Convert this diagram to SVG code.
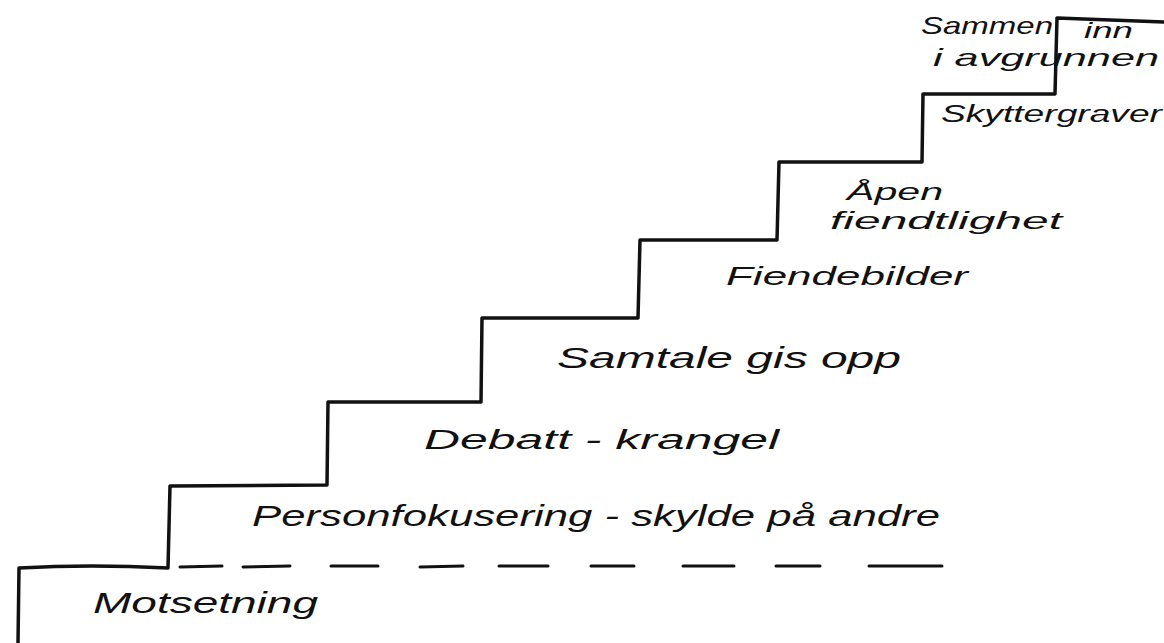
<svg xmlns="http://www.w3.org/2000/svg" width="1164" height="643" viewBox="0 0 1164 643">
  <style>
    .stair { fill: none; stroke: #111; stroke-width: 3.5; stroke-linejoin: round; stroke-linecap: round; }
    .dash { fill: none; stroke: #111; stroke-width: 3; stroke-linecap: round; }
    .lbl { font-family: "Liberation Sans", "DejaVu Sans", sans-serif; fill: #111; font-style: italic; }
  </style>
  <rect width="1164" height="643" fill="#fff"/>
  <g id="connectors">
    <path class="stair" d="M18,643 L19,568 Q90,564 168,568 L170,486 L327,485 L328,402 L481,402 L482,318 L638,318 L640,240 L777,240 L779,162 L922,162 L923,94 L1055,94 L1057,18 L1164,22"/>
    <g id="dashes">
      <line class="dash" x1="180" y1="567" x2="222" y2="566"/>
      <line class="dash" x1="243" y1="567" x2="290" y2="566"/>
      <line class="dash" x1="331" y1="566" x2="378" y2="566"/>
      <line class="dash" x1="420" y1="567" x2="463" y2="566"/>
      <line class="dash" x1="499" y1="566" x2="548" y2="566"/>
      <line class="dash" x1="591" y1="566" x2="634" y2="566"/>
      <line class="dash" x1="683" y1="566" x2="734" y2="566"/>
      <line class="dash" x1="776" y1="566" x2="820" y2="566"/>
      <line class="dash" x1="869" y1="566" x2="942" y2="566"/>
    </g>
  </g>
  <g id="step-motsetning">
    <text class="lbl" x="93" y="613" font-size="30" textLength="225" lengthAdjust="spacingAndGlyphs">Motsetning</text>
  </g>
  <g id="step-personfokusering">
    <text class="lbl" x="252" y="526" font-size="29" textLength="688" lengthAdjust="spacingAndGlyphs">Personfokusering - skylde på andre</text>
  </g>
  <g id="step-debatt">
    <text class="lbl" x="424" y="449" font-size="27" textLength="355" lengthAdjust="spacingAndGlyphs">Debatt - krangel</text>
  </g>
  <g id="step-samtale">
    <text class="lbl" x="557" y="368" font-size="29" textLength="344" lengthAdjust="spacingAndGlyphs">Samtale gis opp</text>
  </g>
  <g id="step-fiendebilder">
    <text class="lbl" x="726" y="285" font-size="25" textLength="242" lengthAdjust="spacingAndGlyphs">Fiendebilder</text>
  </g>
  <g id="step-apen">
    <text class="lbl" x="847" y="200" font-size="23" textLength="96" lengthAdjust="spacingAndGlyphs">Åpen</text>
    <text class="lbl" x="830" y="229" font-size="23" textLength="232" lengthAdjust="spacingAndGlyphs">fiendtlighet</text>
  </g>
  <g id="step-skyttergraver">
    <text class="lbl" x="941" y="122" font-size="23" textLength="221" lengthAdjust="spacingAndGlyphs">Skyttergraver</text>
  </g>
  <g id="step-avgrunnen">
    <text class="lbl" x="921" y="34" font-size="24" textLength="132" lengthAdjust="spacingAndGlyphs">Sammen</text>
    <text class="lbl" x="1084" y="38" font-size="22" textLength="49" lengthAdjust="spacingAndGlyphs">inn</text>
    <text class="lbl" x="933" y="66" font-size="24" textLength="226" lengthAdjust="spacingAndGlyphs">i avgrunnen</text>
  </g>
</svg>
